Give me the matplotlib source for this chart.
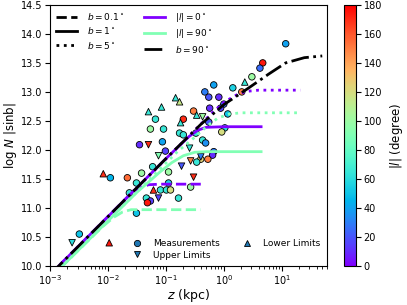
import numpy as np
import matplotlib
matplotlib.use('Agg')
import matplotlib.pyplot as plt
from matplotlib.lines import Line2D

cmap = plt.get_cmap('rainbow')

# measurements: z (kpc), log N |sin b|, |l| (deg)
meas_z = [11.7, 4.7, 4.2, 3.05, 1.43, 2.04, 0.67, 0.47, 0.82, 0.55, 0.57, 1.0, 0.88,
          1.17, 0.55, 1.04, 0.92, 0.30, 0.20, 0.066, 0.054, 0.091, 0.172, 0.20, 0.33,
          0.43, 0.485, 0.087, 0.035, 0.098, 0.67, 0.64, 0.53, 0.40, 0.34, 0.059, 0.038,
          0.0216, 0.011, 0.031, 0.0234, 0.111, 0.111, 0.267, 0.0805, 0.102, 0.12, 0.165,
          0.046, 0.054, 0.048, 0.031, 0.0032]
meas_N = [13.83, 13.50, 13.41, 13.26, 13.07, 13.00, 13.12, 13.00, 12.91, 12.91, 12.72,
          12.79, 12.72, 12.62, 12.48, 12.38, 12.31, 12.67, 12.53, 12.53, 12.36, 12.36,
          12.29, 12.26, 12.29, 12.17, 12.12, 12.14, 12.09, 11.98, 11.97, 11.91, 11.84,
          11.84, 11.79, 11.71, 11.60, 11.52, 11.52, 11.43, 11.26, 11.62, 11.43, 11.36,
          11.31, 11.31, 11.31, 11.17, 11.17, 11.12, 11.09, 10.91, 10.55]
meas_l = [40, 175, 25, 100, 55, 150, 40, 30, 10, 20, 10, 25, 15, 50, 20, 60, 120, 150,
          170, 65, 100, 65, 65, 65, 65, 65, 35, 40, 10, 15, 30, 10, 150, 125, 65, 65,
          100, 155, 45, 65, 65, 100, 55, 100, 65, 65, 120, 65, 65, 15, 175, 50, 50]

upper_z = [0.43, 0.050, 0.0745, 0.256, 0.186, 0.30, 0.267, 0.40, 0.0745, 0.0024]
upper_N = [12.57, 12.09, 11.90, 12.03, 11.72, 11.53, 11.81, 11.88, 11.17, 10.40]
upper_l = [100, 170, 90, 65, 20, 170, 150, 30, 15, 60]

lower_z = [2.3, 0.147, 0.172, 0.084, 0.050, 0.34, 0.179, 0.0083, 0.061, 0.0105]
lower_N = [13.17, 12.90, 12.83, 12.74, 12.66, 12.60, 12.47, 11.59, 11.31, 10.40]
lower_l = [65, 65, 115, 65, 65, 65, 65, 170, 170, 175]

# model curves
l0_b01_z = [0.001, 0.028, 0.05, 0.079, 0.4]
l0_b01_N = [9.85, 11.30, 11.40, 11.41, 11.41]
l0_b1_z = [0.001, 0.1, 0.25, 0.355, 0.5, 1.0, 4.4]
l0_b1_N = [9.85, 11.85, 12.23, 12.34, 12.39, 12.40, 12.40]
l0_b5_z = [0.001, 0.63, 1.0, 1.74, 2.5, 4.0, 21]
l0_b5_N = [9.85, 12.64, 12.82, 12.96, 13.01, 13.03, 13.03]

l90_b01_z = [0.001, 0.0079, 0.0126, 0.0178, 0.025, 0.4]
l90_b01_N = [9.79, 10.67, 10.84, 10.93, 10.97, 10.97]
l90_b1_z = [0.001, 0.0316, 0.079, 0.126, 0.2, 0.316, 0.5, 4.4]
l90_b1_N = [9.79, 11.27, 11.62, 11.78, 11.90, 11.96, 11.97, 11.97]
l90_b5_z = [0.001, 0.158, 0.316, 0.5, 0.79, 1.26, 2.0, 21]
l90_b5_N = [9.79, 11.97, 12.22, 12.40, 12.55, 12.62, 12.64, 12.64]

b90_z = [0.001, 0.1, 0.4, 1.0, 2.7, 6.0, 11.7, 24.5, 50]
b90_N = [9.85, 11.85, 12.44, 12.78, 13.07, 13.31, 13.50, 13.59, 13.62]

fig = plt.figure(figsize=(4.07, 3.05), dpi=100)
ax = fig.add_axes([0.123, 0.128, 0.68, 0.856])
cax = fig.add_axes([0.845, 0.128, 0.0295, 0.856])

c0 = cmap(0.0)
c90 = cmap(0.5)
lw = 2.0
ax.plot(l0_b01_z, l0_b01_N, color=c0, ls='--', lw=lw, zorder=4)
ax.plot(l0_b1_z, l0_b1_N, color=c0, ls='-', lw=lw, zorder=4)
ax.plot(l0_b5_z, l0_b5_N, color=c0, ls=':', lw=lw, zorder=4)
ax.plot(l90_b01_z, l90_b01_N, color=c90, ls='--', lw=lw, zorder=4)
ax.plot(l90_b1_z, l90_b1_N, color=c90, ls='-', lw=lw, zorder=4)
ax.plot(l90_b5_z, l90_b5_N, color=c90, ls=':', lw=lw, zorder=4)
ax.plot(b90_z, b90_N, color='k', ls='-.', lw=lw, zorder=4)

kw = dict(cmap=cmap, vmin=0, vmax=180, edgecolors='k', linewidths=0.6, s=22, zorder=3)
sc = ax.scatter(meas_z, meas_N, c=meas_l, marker='o', **kw)
ax.scatter(upper_z, upper_N, c=upper_l, marker='v', **kw)
ax.scatter(lower_z, lower_N, c=lower_l, marker='^', **kw)

ax.set_xscale('log')
ax.set_xlim(1e-3, 60)
ax.set_ylim(10.0, 14.5)
ax.set_yticks(np.arange(10.0, 14.51, 0.5))
ax.tick_params(labelsize=7, pad=2)
ax.set_xlabel('$z$ (kpc)', fontsize=9, labelpad=0)
ax.set_ylabel('log $N$ |sinb|', fontsize=8.5, labelpad=1)

line_handles = [
    Line2D([], [], color='k', ls='--', lw=lw),
    Line2D([], [], color='k', ls='-', lw=lw),
    Line2D([], [], color='k', ls=':', lw=lw),
    Line2D([], [], color=c0, ls='-', lw=lw),
    Line2D([], [], color=c90, ls='-', lw=lw),
    Line2D([], [], color='k', ls='-.', lw=lw),
]
line_labels = [r'$b=0.1^\circ$', r'$b=1^\circ$', r'$b=5^\circ$',
               r'$|l|=0^\circ$', r'$|l|=90^\circ$', r'$b=90^\circ$']
leg1 = ax.legend(line_handles, line_labels, loc='upper left', ncol=2, frameon=False,
                 fontsize=6.5, handlelength=2.3, handletextpad=1.1, columnspacing=2.2,
                 labelspacing=0.35, borderaxespad=0.3)
ax.add_artist(leg1)

pt_kw = dict(ls='none', color='#1f77b4', markeredgecolor='k', markeredgewidth=0.6, markersize=4.5)
pt_handles = [Line2D([], [], marker='o', **pt_kw),
              Line2D([], [], marker='v', **pt_kw),
              Line2D([], [], marker='^', **pt_kw)]
ax.legend(pt_handles, ['Measurements', 'Upper Limits', 'Lower Limits'], loc='lower right',
          ncol=2, frameon=False, fontsize=6.5, columnspacing=2.0, labelspacing=0.3,
          handletextpad=0.8, borderaxespad=0.3)

cb = fig.colorbar(sc, cax=cax)
cb.set_ticks(np.arange(0, 181, 20))
cb.ax.tick_params(labelsize=7, pad=2)
cb.set_label('|$l$| (degree)', fontsize=8.5)

fig.savefig('out.png', dpi=100)
